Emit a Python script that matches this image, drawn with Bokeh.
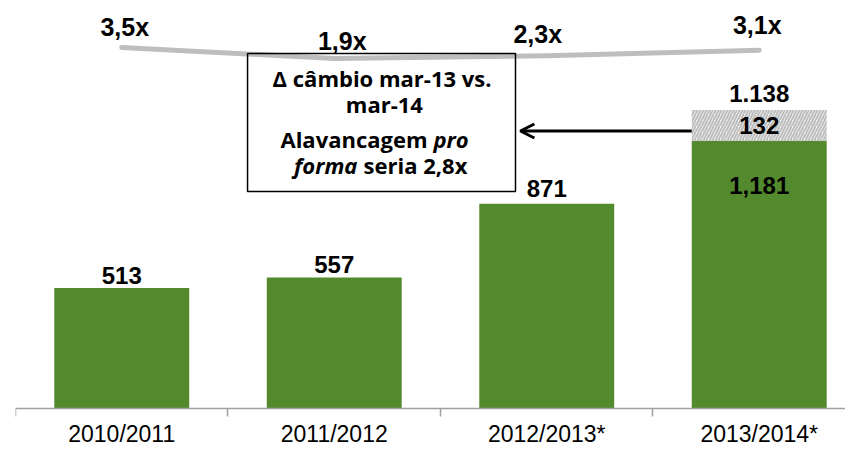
from bokeh.plotting import figure
from bokeh.models import Range1d, FixedTicker, ColumnDataSource, Arrow, OpenHead, BoxAnnotation
from bokeh.core.properties import value
from bokeh.embed import file_html
from bokeh.resources import INLINE

# ---- data ----
seasons = ["2010/2011", "2011/2012", "2012/2013*", "2013/2014*"]
ebitda = [513, 557, 871, 1138]
fx_effect = [0, 0, 0, 132]
top_labels = ["513", "557", "871", "1.138"]
fx_labels = ["", "", "", "132"]
inner_labels = ["", "", "", "1,181"]
leverage = [3.5, 1.9, 2.3, 3.1]
leverage_labels = ["3,5x", "1,9x", "2,3x", "3,1x"]
arrow_level = 1181

xs = [i + 0.5 for i in range(len(seasons))]
totals = [e + f for e, f in zip(ebitda, fx_effect)]
fx_mid = [e + f / 2 for e, f in zip(ebitda, fx_effect)]

GREEN = "#548A2E"
BAR_W = 0.635

p = figure(width=845, height=449, x_range=Range1d(0, 3.906), y_range=Range1d(-174.5, 1736.2),
           y_axis_location=None, output_backend="svg", toolbar_location=None,
           min_border_left=15, min_border_right=0, min_border_top=0, min_border_bottom=0)
p.extra_y_ranges = {"lev": Range1d(-54.97, 10.336)}
p.outline_line_color = None
p.xgrid.visible = False
p.ygrid.visible = False
p.background_fill_color = "white"

src = ColumnDataSource(dict(x=xs, ebitda=ebitda, total=totals, fx_mid=fx_mid,
                            top_labels=top_labels, fx_labels=fx_labels,
                            inner_labels=inner_labels, lab_off=[-12, -13, -15, -17]))

p.vbar(x="x", top="ebitda", width=BAR_W, source=src, fill_color=GREEN, line_color=None)
p.vbar(x="x", bottom="ebitda", top="total", width=BAR_W, source=src,
       fill_color="#F4F4F4", line_color=None, hatch_pattern="/", hatch_color="#BDBDBD",
       hatch_scale=6, hatch_weight=2)

bold = dict(text_font=value("Liberation Sans"), text_font_style="bold", text_color="black")
p.text(x="x", y="total", text="top_labels", source=src, text_align="center",
       text_baseline="middle", y_offset="lab_off", text_font_size="24px", **bold)
p.text(x="x", y="fx_mid", text="fx_labels", source=src, text_align="center",
       text_baseline="middle", text_font_size="24px", **bold)
p.text(x="x", y="ebitda", text="inner_labels", source=src, text_align="center",
       text_baseline="middle", y_offset=44, text_font_size="24px", **bold)

# leverage line
lev_src = ColumnDataSource(dict(x=xs, lev=leverage, lab=leverage_labels,
                                xo=[3, 8, -9, -2], yo=[-20.5, -18, -21.5, -25.5]))
p.line(x="x", y="lev", source=lev_src, y_range_name="lev", line_color="#BEBEBE",
       line_width=5, line_cap="round", line_join="round")
p.text(x="x", y="lev", text="lab", source=lev_src, y_range_name="lev",
       x_offset="xo", y_offset="yo", text_align="center", text_baseline="middle",
       text_font_size="25px", **bold)

# annotation box
p.add_layout(BoxAnnotation(left=1.092, right=2.353, bottom=923.4, top=1510.6,
                           fill_alpha=0, line_color="black", line_alpha=1, line_width=1.5))
bx = dict(text_font=value("Open Sans"), text_font_size="22px", text_color="black",
          text_baseline="middle")
p.text(x=[1.725, 1.736], y=[1406.4, 1295.7], text=["Δ câmbio mar-13 vs.", "mar-14"],
       text_align="center", text_font_style="bold", **bx)
p.text(x=[1.939], y=[1146.8], text=["Alavancagem"], text_align="right",
       text_font_style="bold", **bx)
p.text(x=[1.967], y=[1146.8], text=["pro"], text_align="left",
       text_font_style="bold italic", **bx)
p.text(x=[1.609], y=[1036.2], text=["forma"], text_align="right",
       text_font_style="bold italic", **bx)
p.text(x=[1.638], y=[1036.2], text=["seria 2,8x"], text_align="left",
       text_font_style="bold", **bx)

p.add_layout(Arrow(end=OpenHead(size=14, line_width=3, line_color="black"),
                   x_start=xs[3] - BAR_W / 2, y_start=arrow_level,
                   x_end=2.376, y_end=arrow_level, line_width=3, line_color="black"))

ax = p.xaxis[0]
ax.fixed_location = 0
ax.ticker = FixedTicker(ticks=xs, minor_ticks=[0, 1, 2, 3, 4])
ax.major_label_overrides = {x: s for x, s in zip(xs, seasons)}
ax.major_tick_out = 0
ax.major_tick_in = 0
ax.minor_tick_out = 8
ax.minor_tick_in = 0
ax.minor_tick_line_color = "#A0A0A0"
ax.minor_tick_line_width = 1.5
ax.axis_line_color = "#A0A0A0"
ax.axis_line_width = 1.5
ax.major_label_standoff = 5
ax.major_label_text_font = "Liberation Sans"
ax.major_label_text_font_size = "23px"
ax.major_label_text_color = "black"

open("out.html", "w").write(file_html(p, INLINE))
